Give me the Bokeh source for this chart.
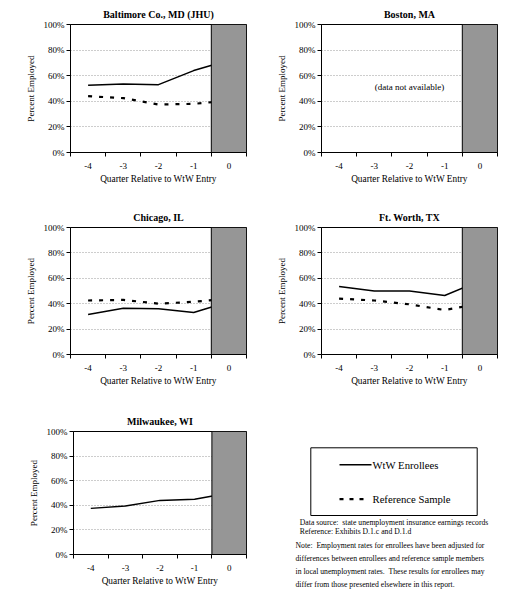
from bokeh.plotting import figure
from bokeh.layouts import column, row
from bokeh.models import Range1d, FixedTicker, PrintfTickFormatter
from bokeh.embed import file_html
from bokeh.resources import INLINE
from bokeh.core.properties import value

# ---------------- data ----------------
quarters = [-4, -3, -2, -1, 0]
quarter_labels = ["-4", "-3", "-2", "-1", "0"]
entry_quarter = 0

baltimore_enrollees = [52.5, 53.5, 53.0, 64.0, 72.0]
baltimore_reference = [44.0, 42.5, 37.5, 38.0, 40.5]

chicago_enrollees = [31.5, 36.5, 36.0, 33.0, 41.5]
chicago_reference = [42.5, 43.0, 40.0, 41.5, 44.0]

ftworth_enrollees = [53.5, 50.0, 50.0, 46.5, 58.0]
ftworth_reference = [44.0, 42.5, 39.5, 35.0, 40.0]

milwaukee_enrollees = [37.5, 39.5, 44.0, 45.0, 50.0]

y_ticks = [0, 20, 40, 60, 80, 100]
grid_ticks = [20, 40, 60, 80, 100]

FONT = "Liberation Serif"
SHADE = "#969696"
GRIDC = "#9a9a9a"


def make_panel(title, enrollees, reference, w, h, bl, br, bt, bb, note=None):
    p = figure(width=w, height=h, output_backend="svg", toolbar_location=None,
               x_range=Range1d(-4.5, 0.5), y_range=Range1d(0, 100),
               min_border_left=bl, min_border_right=br,
               min_border_top=bt, min_border_bottom=bb,
               background_fill_color="white", border_fill_color="white")
    p.title.text = title
    p.title.align = "center"
    p.title.text_font = FONT
    p.title.text_font_size = "10px"
    p.title.text_font_style = "bold"
    p.title.text_color = "black"
    p.title.standoff = 9
    p.outline_line_color = "black"
    p.outline_line_width = 1

    # grid
    p.xgrid.visible = False
    p.ygrid.ticker = FixedTicker(ticks=grid_ticks)
    p.ygrid.grid_line_color = GRIDC
    p.ygrid.grid_line_dash = "1 2"
    p.ygrid.grid_line_width = 1

    # y axis
    ya = p.yaxis[0]
    ya.ticker = FixedTicker(ticks=y_ticks)
    ya.formatter = PrintfTickFormatter(format="%d%%")
    ya.major_tick_in = 0
    ya.major_tick_out = 4
    ya.minor_tick_line_color = None
    ya.major_label_standoff = 2
    ya.major_label_text_font = FONT
    ya.major_label_text_font_size = "9px"
    ya.major_label_text_color = "black"
    ya.axis_label = "Percent Employed"
    ya.axis_label_text_font = FONT
    ya.axis_label_text_font_size = "9px"
    ya.axis_label_text_font_style = "normal"
    ya.axis_label_text_color = "black"
    ya.axis_label_standoff = 5
    ya.axis_line_color = "black"
    ya.major_tick_line_color = "black"

    # x axis
    xa = p.xaxis[0]
    xa.ticker = FixedTicker(ticks=quarters,
                            minor_ticks=[q - 0.5 for q in quarters] + [quarters[-1] + 0.5])
    xa.major_label_overrides = {q: l for q, l in zip(quarters, quarter_labels)}
    xa.major_tick_in = 0
    xa.major_tick_out = 0
    xa.minor_tick_in = 0
    xa.minor_tick_out = 4
    xa.minor_tick_line_color = "black"
    xa.major_label_standoff = 6
    xa.major_label_text_font = FONT
    xa.major_label_text_font_size = "9px"
    xa.major_label_text_color = "black"
    xa.axis_label = "Quarter Relative to WtW Entry"
    xa.axis_label_text_font = FONT
    xa.axis_label_text_font_size = "9.3px"
    xa.axis_label_text_font_style = "normal"
    xa.axis_label_text_color = "black"
    xa.axis_label_standoff = 2
    xa.axis_line_color = "black"

    if enrollees is not None:
        p.line(quarters, enrollees, line_color="black", line_width=1.5)
    if reference is not None:
        p.line(quarters, reference, line_color="black", line_width=2.2,
               line_dash="4 7")
    if note is not None:
        p.text(x=[-2], y=[51], text=[note], text_font=value(FONT),
               text_font_size="9px", text_align="center",
               text_baseline="middle", text_color="black")

    # shaded entry quarter
    p.quad(left=[entry_quarter - 0.5], right=[entry_quarter + 0.5],
           bottom=[0], top=[100], fill_color=SHADE, line_color="black",
           line_width=1)
    return p


p1 = make_panel("Baltimore Co., MD (JHU)", baltimore_enrollees, baltimore_reference,
                258, 200, 70, 12, 24, 47)
p2 = make_panel("Boston, MA", None, None, 256, 200, 63, 17, 24, 48,
                note="(data not available)")
p3 = make_panel("Chicago, IL", chicago_enrollees, chicago_reference,
                258, 200, 70, 12, 27, 46)
p4 = make_panel("Ft. Worth, TX", ftworth_enrollees, ftworth_reference,
                256, 200, 63, 17, 27, 46)
p5 = make_panel("Milwaukee, WI", milwaukee_enrollees, None,
                258, 190, 73, 12, 31, 36)

# legend + notes panel
p6 = figure(width=256, height=190, output_backend="svg", toolbar_location=None,
            x_range=Range1d(0, 256), y_range=Range1d(190, 0),
            min_border=0, background_fill_color="white", border_fill_color="white")
p6.axis.visible = False
p6.grid.visible = False
p6.outline_line_color = None
p6.quad(left=[52.3], right=[218.7], top=[47.3], bottom=[115],
        fill_color="white", line_color="black", line_width=1)
p6.line([81, 113], [64.3, 64.3], line_color="black", line_width=1.5)
p6.line([81, 111], [98.7, 98.7], line_color="black", line_width=2.2, line_dash="4 6")
p6.text(x=[114, 114], y=[64.3, 98.7], text=["WtW Enrollees", "Reference Sample"],
        text_font=value(FONT), text_font_size="10.7px", text_align="left",
        text_baseline="middle", text_color="black")
p6.text(x=[41.3, 41.3], y=[121.7, 131],
        text=["Data source:\u00a0 state unemployment insurance earnings records",
              "Reference: Exhibits D.1.c and D.1.d"],
        text_font=value(FONT), text_font_size="7.7px", text_align="left",
        text_baseline="middle", text_color="black")
p6.text(x=[37, 37, 37, 37], y=[145, 158.2, 171.4, 184.3],
        text=["Note:\u00a0 Employment rates for enrollees have been adjusted for",
              "differences between enrollees and reference sample members",
              "in local unemployment rates.\u00a0 These results for enrollees may",
              "differ from those presented elsewhere in this report."],
        text_font=value(FONT), text_font_size="7.7px", text_align="left",
        text_baseline="middle", text_color="black")

layout = column(row(p1, p2), row(p3, p4), row(p5, column(p6)))

open("out.html", "w").write(file_html(layout, INLINE))
